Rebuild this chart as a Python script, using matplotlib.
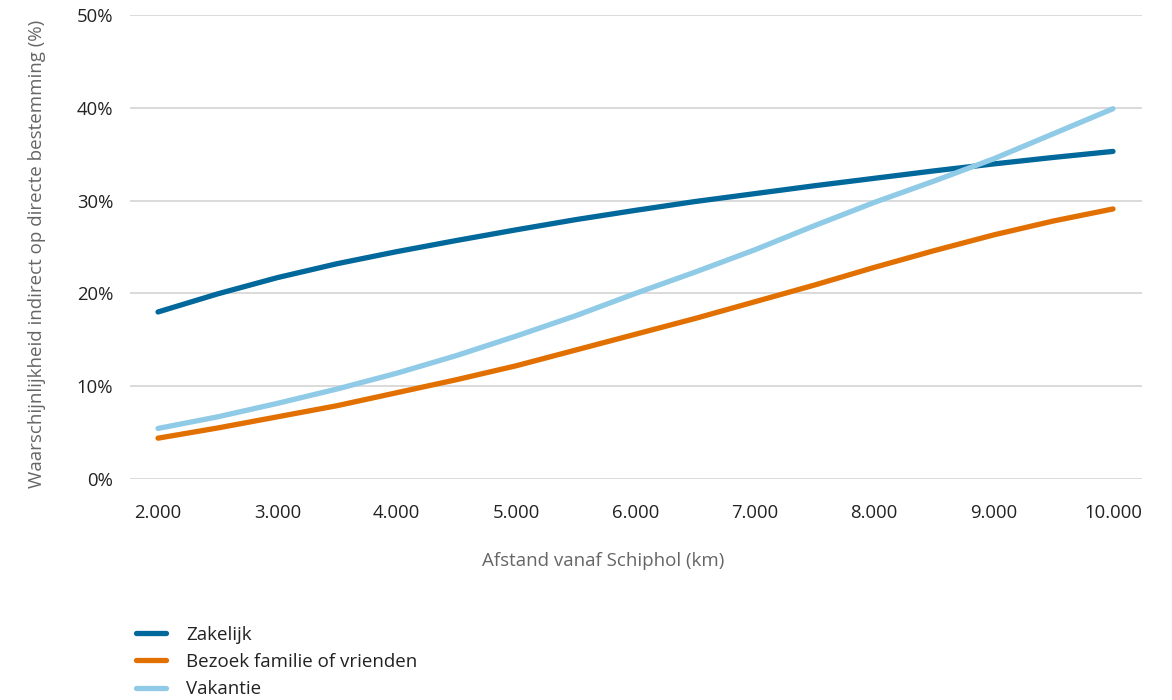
import matplotlib
matplotlib.use("Agg")
import matplotlib.pyplot as plt

plt.rcParams['font.family'] = ['Open Sans', 'DejaVu Sans']

afstand = [2000, 2500, 3000, 3500, 4000, 4500, 5000, 5500, 6000,
           6500, 7000, 7500, 8000, 8500, 9000, 9500, 10000]
zakelijk = [18.0, 19.95, 21.7, 23.2, 24.5, 25.7, 26.85, 27.95, 28.95,
            29.9, 30.75, 31.6, 32.4, 33.2, 33.95, 34.65, 35.3]
bezoek = [4.4, 5.5, 6.7, 7.9, 9.3, 10.7, 12.2, 13.9, 15.6,
          17.3, 19.1, 20.9, 22.8, 24.6, 26.3, 27.8, 29.1]
vakantie = [5.45, 6.7, 8.15, 9.7, 11.4, 13.3, 15.4, 17.6, 20.0,
            22.3, 24.7, 27.3, 29.8, 32.1, 34.5, 37.2, 39.9]

series_names = ["Zakelijk", "Bezoek familie of vrienden", "Vakantie"]
series_values = [zakelijk, bezoek, vakantie]
colors = ["#01689B", "#E17000", "#8FCAE7"]

x_ticks = [2000, 3000, 4000, 5000, 6000, 7000, 8000, 9000, 10000]
x_tick_labels = ["2.000", "3.000", "4.000", "5.000", "6.000", "7.000", "8.000", "9.000", "10.000"]
y_ticks = [0, 10, 20, 30, 40, 50]
y_tick_labels = ["0%", "10%", "20%", "30%", "40%", "50%"]

fig = plt.figure(figsize=(11.72, 7.0), dpi=100)
ax = fig.add_axes([0.1109, 0.3157, 0.8635, 0.6629])

for name, vals, c in zip(series_names, series_values, colors):
    ax.plot(afstand, vals, color=c, lw=3.8, solid_capstyle='round',
            solid_joinstyle='round', label=name)

ax.set_xlim(1765, 10243)
ax.set_ylim(0, 50)
ax.set_xticks(x_ticks)
ax.set_xticklabels(x_tick_labels)
ax.set_yticks(y_ticks)
ax.set_yticklabels(y_tick_labels)
ax.tick_params(axis='both', length=0, labelsize=13.3, colors='#222222')
ax.tick_params(axis='x', pad=18)
ax.tick_params(axis='y', pad=12)
ax.grid(axis='y', color='#d4d4d4', lw=1.2)
ax.set_axisbelow(True)
for s in ax.spines.values():
    s.set_visible(False)

ax.set_xlabel("Afstand vanaf Schiphol (km)", fontsize=13.5, color='#666666')
ax.xaxis.set_label_coords(0.468, -0.1565, transform=ax.transAxes)
fig.text(0.0316, 0.637, "Waarschijnlijkheid indirect op directe bestemming (%)",
         rotation=90, fontsize=13.5, color='#666666', ha='center', va='center')

handles, labels = ax.get_legend_handles_labels()
fig.legend(handles, labels, loc='upper left', bbox_to_anchor=(0.1157, 0.1064),
           frameon=False, fontsize=13.5, handlelength=1.6, handletextpad=1.1,
           labelspacing=0.5, borderaxespad=0, borderpad=0, labelcolor='#222222')

fig.savefig("out.png", dpi=100)
